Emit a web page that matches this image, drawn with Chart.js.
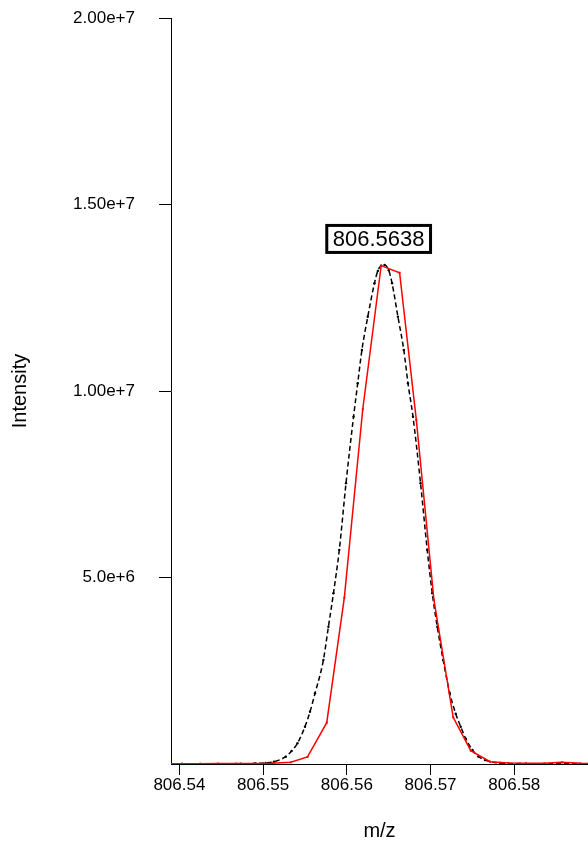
<!DOCTYPE html>
<html>
<head>
<meta charset="utf-8">
<script src="https://cdn.jsdelivr.net/npm/chart.js@4"></script>
<style>
  html, body { margin: 0; padding: 0; background: #fff; }
  #wrap { position: relative; width: 588px; height: 843px; }
</style>
</head>
<body>
<div id="wrap"><canvas id="chart"></canvas></div>
<script>
// profile (black dashed)
const profileMz = [806.5390, 806.5473, 806.5491, 806.5503, 806.5513, 806.5527, 806.5534, 806.5541,
  806.5550, 806.5556, 806.5562, 806.5572, 806.5578, 806.5584, 806.5591, 806.5599, 806.5608,
  806.5613, 806.5618, 806.5625, 806.5633, 806.5637, 806.5641, 806.5645, 806.5650, 806.5654,
  806.5661, 806.5668, 806.5673, 806.5679, 806.5688, 806.5696, 806.5702, 806.5708, 806.5715,
  806.5723, 806.5730, 806.5736, 806.5742, 806.5750, 806.5757, 806.5765, 806.5783, 806.5807,
  806.5888];
const profileIntensity = [0.003e6, 0.006e6, 0.014e6, 0.03e6, 0.062e6, 0.196e6, 0.35e6, 0.555e6,
  1.0e6, 1.40e6, 1.895e6, 2.788e6, 3.681e6, 4.577e6, 5.74e6, 7.53e6, 9.31e6,
  10.21e6, 11.10e6, 11.99e6, 12.89e6, 13.22e6, 13.36e6, 13.38e6, 13.24e6, 12.89e6,
  11.99e6, 11.10e6, 10.21e6, 9.31e6, 7.53e6, 5.74e6, 4.58e6, 3.68e6, 2.79e6,
  1.895e6, 1.35e6, 1.0e6, 0.68e6, 0.375e6, 0.2e6, 0.107e6, 0.027e6, 0.01e6,
  0.004e6];

// measured points (red)
const scanMz = [806.5382, 806.5403, 806.5425, 806.5446, 806.5468, 806.5489, 806.5511, 806.5533,
  806.5553, 806.5576, 806.5597, 806.5619, 806.5641, 806.5663, 806.5683, 806.5704, 806.5727,
  806.5748, 806.5771, 806.5793, 806.5814, 806.5836, 806.5857, 806.5879, 806.5900];
const scanIntensity = [0.008e6, 0.01e6, 0.01e6, 0.012e6, 0.014e6, 0.016e6, 0.022e6, 0.045e6,
  0.188e6, 1.107e6, 4.459e6, 9.51e6, 13.36e6, 13.17e6, 9.22e6, 4.40e6, 1.25e6,
  0.357e6, 0.062e6, 0.03e6, 0.022e6, 0.02e6, 0.045e6, 0.018e6, 0.015e6];

const xTicks = [806.54, 806.55, 806.56, 806.57, 806.58];
const yTicks = [5e6, 1e7, 1.5e7, 2e7];
const yTickLabels = ['5.0e+6', '1.00e+7', '1.50e+7', '2.00e+7'];

const peakLabel = '806.5638';
const peakMz = 806.5638;
const peakIntensity = 13.38e6;

Chart.defaults.font.family = '"Liberation Sans", Arial, Helvetica, sans-serif';
Chart.defaults.font.size = 17;
Chart.defaults.color = '#000';

const peakBox = {
  id: 'peakBox',
  afterDatasetsDraw(chart) {
    const { ctx, scales: { x, y } } = chart;
    const cx = x.getPixelForValue(peakMz);
    const cy = y.getPixelForValue(peakIntensity) - 26;
    ctx.save();
    ctx.font = '22px "Liberation Sans", Arial, sans-serif';
    const w = ctx.measureText(peakLabel).width + 12;
    const h = 27;
    ctx.fillStyle = '#fff';
    ctx.fillRect(cx - w / 2, cy - h / 2, w, h);
    ctx.lineWidth = 3;
    ctx.strokeStyle = '#000';
    ctx.strokeRect(cx - w / 2, cy - h / 2, w, h);
    ctx.fillStyle = '#000';
    ctx.textAlign = 'center';
    ctx.textBaseline = 'middle';
    ctx.fillText(peakLabel, cx, cy + 1);
    ctx.restore();
  }
};

// keep the plot box fixed: no extra room for tick labels
function noPad(axis) {
  axis.paddingTop = 0;
  axis.paddingBottom = 0;
  axis.paddingLeft = 0;
  axis.paddingRight = 0;
}

new Chart(document.getElementById('chart'), {
  type: 'line',
  data: {
    datasets: [
      {
        label: 'scan',
        data: scanMz.map((m, i) => ({ x: m, y: scanIntensity[i] })),
        borderColor: '#ff0000',
        borderWidth: 1.5,
        pointRadius: 1.4,
        pointStyle: 'rect',
        pointBackgroundColor: '#ff0000',
        pointBorderWidth: 0,
        tension: 0,
        order: 0,
      },
      {
        label: 'profile',
        data: profileMz.map((m, i) => ({ x: m, y: profileIntensity[i] })),
        borderColor: '#000',
        borderWidth: 1.5,
        borderDash: [5, 3],
        pointRadius: 1.2,
        pointBackgroundColor: '#000',
        pointBorderWidth: 0,
        cubicInterpolationMode: 'monotone',
        order: 1,
      },
    ],
  },
  options: {
    responsive: true,
    maintainAspectRatio: false,
    animation: false,
    devicePixelRatio: 1,
    layout: { autoPadding: false, padding: { top: 18, right: 0, bottom: 0, left: 0 } },
    plugins: { legend: { display: false }, tooltip: { enabled: false } },
    scales: {
      x: {
        type: 'linear',
        min: 806.539,
        max: 806.5888,
        afterBuildTicks: axis => { axis.ticks = xTicks.map(v => ({ value: v })); },
        afterFit: axis => { axis.height = 79; noPad(axis); },
        ticks: {
          callback: v => v.toFixed(2),
          padding: 0,
          maxRotation: 0,
          autoSkip: false,
        },
        grid: { drawOnChartArea: false, drawTicks: true, tickLength: 11, color: '#000' },
        border: { display: true, color: '#000', width: 1 },
        title: { display: true, text: 'm/z', font: { size: 20 }, padding: { top: 0, bottom: 0 } },
      },
      y: {
        min: 0,
        max: 2e7,
        afterBuildTicks: axis => { axis.ticks = yTicks.map(v => ({ value: v })); },
        afterFit: axis => { axis.width = 171; noPad(axis); },
        ticks: {
          callback: v => yTickLabels[yTicks.indexOf(v)] || '',
          padding: 24,
          autoSkip: false,
        },
        grid: { drawOnChartArea: false, drawTicks: true, tickLength: 12, color: '#000' },
        border: { display: true, color: '#000', width: 1 },
        title: { display: true, text: 'Intensity', font: { size: 20 }, padding: { top: 8, bottom: 0 } },
      },
    },
  },
  plugins: [peakBox],
});
</script>
</body>
</html>
